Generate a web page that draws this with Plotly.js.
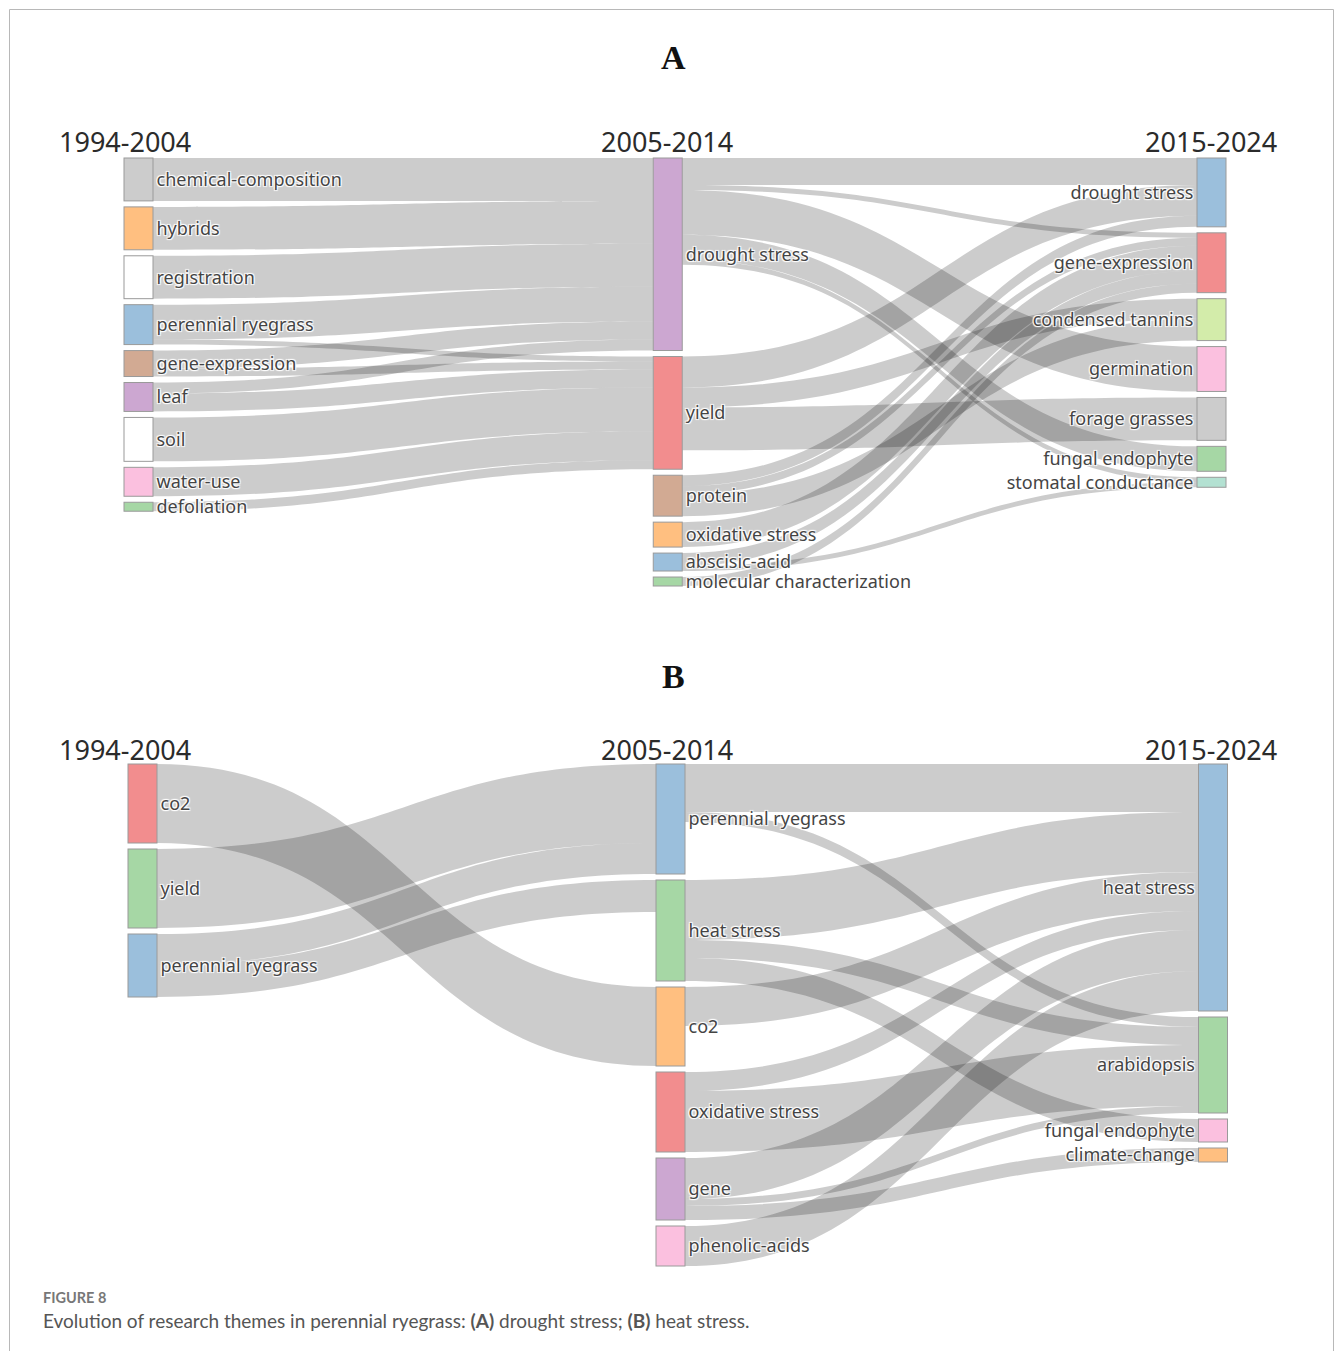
<!DOCTYPE html>
<html>
<head>
<meta charset="utf-8">
<script src="https://cdn.plot.ly/plotly-3.0.1.min.js"></script>
<style>
  html, body { margin: 0; padding: 0; background: #ffffff; }
  #chart { width: 1335px; height: 1351px; }
</style>
</head>
<body>
<div id="chart"></div>
<script>
// ---------------- DATA ----------------
const periods = ["1994-2004", "2005-2014", "2015-2024"];

// Panel A: drought stress
const nodesA = [
  "chemical-composition", "hybrids", "registration", "perennial ryegrass", "gene-expression",
  "leaf", "soil", "water-use", "defoliation",
  "drought stress", "yield", "protein", "oxidative stress", "abscisic-acid", "molecular characterization",
  "drought stress", "gene-expression", "condensed tannins", "germination", "forage grasses",
  "fungal endophyte", "stomatal conductance"
];
const nodePeriodA = [0, 0, 0, 0, 0, 0, 0, 0, 0,
                     1, 1, 1, 1, 1, 1,
                     2, 2, 2, 2, 2, 2, 2];
const nodeColorsA = [
  "#CCCCCC", "#FFBF80", "#FFFFFF", "#9BBFDC", "#D2AA93",
  "#CCA7D1", "#FFFFFF", "#FBC0DF", "#A6D7A5",
  "#CCA7D1", "#F28D8E", "#D2AA93", "#FFBF80", "#9BBFDC", "#A6D7A5",
  "#9BBFDC", "#F28D8E", "#D3ECAA", "#FBC0DF", "#CCCCCC",
  "#A6D7A5", "#B3E1D2"
];
const linkSourceA = [0, 1, 2, 3, 3, 4, 4, 5, 5, 6, 7, 8,
                     9, 9, 9, 9, 9, 10, 10, 10, 11, 11, 11, 12, 13, 13, 14];
const linkTargetA = [9, 9, 9, 9, 10, 9, 10, 9, 10, 10, 10, 10,
                     15, 16, 18, 20, 21, 15, 17, 19, 15, 16, 17, 16, 16, 21, 16];
const linkValueA  = [43, 43, 43, 35, 5, 18, 8, 11, 18, 44, 29, 9,
                     27, 5, 45, 25, 5, 31, 20, 43, 11, 8, 22, 25, 13, 5, 9];

// Panel B: heat stress
const nodesB = [
  "co2", "yield", "perennial ryegrass",
  "perennial ryegrass", "heat stress", "co2", "oxidative stress", "gene", "phenolic-acids",
  "heat stress", "arabidopsis", "fungal endophyte", "climate-change"
];
const nodePeriodB = [0, 0, 0,
                     1, 1, 1, 1, 1, 1,
                     2, 2, 2, 2];
const nodeColorsB = [
  "#F28D8E", "#A6D7A5", "#9BBFDC",
  "#9BBFDC", "#A6D7A5", "#FFBF80", "#F28D8E", "#CCA7D1", "#FBC0DF",
  "#9BBFDC", "#A6D7A5", "#FBC0DF", "#FFBF80"
];
const linkSourceB = [0, 1, 2, 2, 3, 3, 4, 4, 4, 5, 6, 6, 7, 7, 7, 8];
const linkTargetB = [5, 3, 3, 4, 9, 10, 9, 10, 11, 9, 9, 10, 9, 10, 12, 9];
const linkValueB  = [79, 79, 31, 32, 48, 10, 60, 18, 23, 39, 19, 61, 41, 7, 14, 40];

const panelLetters = ["A", "B"];
const captionHead = "FIGURE 8";
const captionText = "Evolution of research themes in perennial ryegrass: <b>(A)</b> drought stress; <b>(B)</b> heat stress.";

// ---------------- LAYOUT HELPERS ----------------
const W = 1335, H = 1351;
const px = x => x / W;
const py = y => 1 - y / H;

const NODE_PAD = 6;
const NODE_THICK = 29;

const labelFont = { family: "Noto Sans, DejaVu Sans, sans-serif", size: 18, color: "#444" };

// Stack the themes of each period from the top, in the order given in the data,
// using the same value scale as the sankey layout (node size = max(in, out)).
function stackedPositions(period, src, tgt, val, widthPx, heightPx) {
  const n = period.length;
  const inSum = new Array(n).fill(0), outSum = new Array(n).fill(0);
  src.forEach((s, k) => { outSum[s] += val[k]; inSum[tgt[k]] += val[k]; });
  const value = inSum.map((v, i) => Math.max(v, outSum[i]));
  const nCols = Math.max(...period) + 1;
  const cols = [];
  for (let c = 0; c < nCols; c++) cols.push([]);
  period.forEach((p, i) => cols[p].push(i));
  const ky = Math.min(...cols.map(c =>
    (heightPx - (c.length - 1) * NODE_PAD) / c.reduce((a, i) => a + value[i], 0)));
  const x = new Array(n), y = new Array(n);
  cols.forEach((c, ci) => {
    let t = 0;
    c.forEach(i => {
      const h = value[i] * ky;
      y[i] = (t + h / 2) / heightPx;
      t += h + NODE_PAD;
      x[i] = ci === 0 ? (NODE_THICK / 2) / widthPx : ci / (nCols - 1);
    });
  });
  return { x, y };
}

function sankeyTrace(labels, period, colors, src, tgt, val, x0, x1, y0, y1) {
  const pos = stackedPositions(period, src, tgt, val, x1 - x0, y1 - y0);
  return {
    type: "sankey",
    arrangement: "snap",
    domain: { x: [px(x0), px(x1)], y: [py(y1), py(y0)] },
    node: {
      label: labels,
      color: colors,
      pad: NODE_PAD,
      thickness: NODE_THICK,
      align: "right",
      x: pos.x,
      y: pos.y,
      line: { color: "#9a9a9a", width: 1 },
      hoverinfo: "none"
    },
    link: {
      source: src,
      target: tgt,
      value: val,
      color: "rgba(0,0,0,0.2)",
      hoverinfo: "none"
    },
    textfont: labelFont
  };
}

const traceA = sankeyTrace(nodesA, nodePeriodA, nodeColorsA, linkSourceA, linkTargetA, linkValueA, 124, 1211.5, 158, 586);
const traceB = sankeyTrace(nodesB, nodePeriodB, nodeColorsB, linkSourceB, linkTargetB, linkValueB, 128, 1213, 764, 1266);

const headerFont = { family: "Noto Sans, DejaVu Sans, sans-serif", size: 27, color: "#2b2b2b" };
const annotations = [];
const headerX = [125, 667, 1211];
[141, 749].forEach(yy => {
  periods.forEach((p, i) => {
    annotations.push({
      text: p, xref: "paper", yref: "paper", x: px(headerX[i]), y: py(yy),
      xanchor: "center", yanchor: "middle", showarrow: false, font: headerFont
    });
  });
});
[57, 677].forEach((yy, i) => {
  annotations.push({
    text: "<b>" + panelLetters[i] + "</b>", xref: "paper", yref: "paper",
    x: px(673), y: py(yy), xanchor: "center", yanchor: "middle", showarrow: false,
    font: { family: "Liberation Serif, Times New Roman, serif", size: 34, color: "#111" }
  });
});
annotations.push({
  text: "<b>" + captionHead + "</b>", xref: "paper", yref: "paper",
  x: px(41), y: py(1297), xanchor: "left", yanchor: "middle", showarrow: false,
  font: { family: "Lato, Noto Sans, sans-serif", size: 14.5, color: "#777" }
});
annotations.push({
  text: captionText, xref: "paper", yref: "paper",
  x: px(41), y: py(1320), xanchor: "left", yanchor: "middle", showarrow: false,
  font: { family: "Lato, Noto Sans, sans-serif", size: 19, color: "#555" }
});

const layout = {
  width: W, height: H,
  margin: { l: 0, r: 0, t: 0, b: 0 },
  paper_bgcolor: "#ffffff",
  font: labelFont,
  annotations: annotations,
  shapes: [{
    type: "rect", xref: "paper", yref: "paper",
    x0: px(9.5), x1: px(1333.5), y0: -0.02, y1: py(9.5),
    line: { color: "#b8b8b8", width: 1 }, fillcolor: "rgba(0,0,0,0)", layer: "below"
  }],
  showlegend: false
};

Plotly.newPlot("chart", [traceA, traceB], layout, { displayModeBar: false, staticPlot: true });
</script>
</body>
</html>
